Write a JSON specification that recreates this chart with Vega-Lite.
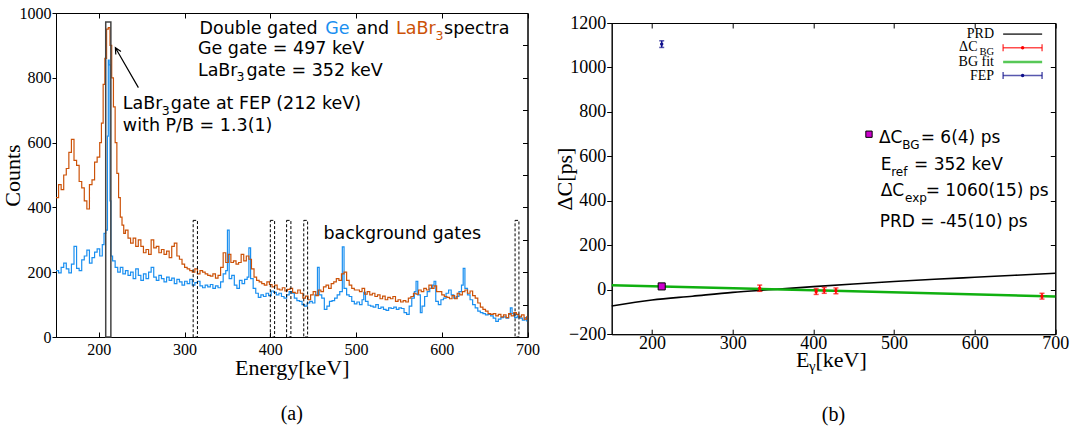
{
"$schema": "https://vega.github.io/schema/vega-lite/v6.json",
"padding": {"left": 0, "top": 4, "right": 0, "bottom": 0},
"spacing": 12.7,
"datasets": {
"ge": [{"E":150,"c":205},{"E":153,"c":198},{"E":156,"c":215},{"E":159,"c":228},{"E":162,"c":210},{"E":165,"c":198},{"E":168,"c":225},{"E":171,"c":280},{"E":174,"c":212},{"E":177,"c":205},{"E":180,"c":238},{"E":183,"c":250},{"E":186,"c":268},{"E":189,"c":228},{"E":192,"c":245},{"E":195,"c":262},{"E":198,"c":272},{"E":201,"c":250},{"E":204,"c":285},{"E":206,"c":320},{"E":208,"c":330},{"E":210,"c":620},{"E":211,"c":855},{"E":212,"c":840},{"E":213,"c":420},{"E":214,"c":250},{"E":216,"c":235},{"E":219,"c":215},{"E":222,"c":200},{"E":225,"c":215},{"E":228,"c":195},{"E":231,"c":205},{"E":234,"c":190},{"E":237,"c":200},{"E":240,"c":180},{"E":243,"c":210},{"E":246,"c":190},{"E":249,"c":175},{"E":252,"c":195},{"E":255,"c":180},{"E":258,"c":200},{"E":261,"c":215},{"E":264,"c":185},{"E":267,"c":175},{"E":270,"c":190},{"E":273,"c":180},{"E":276,"c":170},{"E":279,"c":185},{"E":282,"c":175},{"E":285,"c":182},{"E":288,"c":165},{"E":291,"c":178},{"E":294,"c":170},{"E":297,"c":160},{"E":300,"c":172},{"E":303,"c":165},{"E":306,"c":178},{"E":309,"c":160},{"E":312,"c":168},{"E":315,"c":172},{"E":318,"c":158},{"E":321,"c":152},{"E":324,"c":160},{"E":327,"c":155},{"E":330,"c":162},{"E":333,"c":150},{"E":336,"c":158},{"E":339,"c":152},{"E":342,"c":170},{"E":345,"c":195},{"E":348,"c":205},{"E":350,"c":330},{"E":352,"c":180},{"E":355,"c":190},{"E":358,"c":160},{"E":361,"c":150},{"E":364,"c":175},{"E":367,"c":165},{"E":370,"c":178},{"E":373,"c":185},{"E":375,"c":275},{"E":377,"c":180},{"E":380,"c":150},{"E":383,"c":135},{"E":386,"c":122},{"E":389,"c":130},{"E":392,"c":125},{"E":395,"c":135},{"E":398,"c":128},{"E":401,"c":142},{"E":404,"c":138},{"E":407,"c":130},{"E":410,"c":135},{"E":413,"c":125},{"E":416,"c":120},{"E":419,"c":130},{"E":422,"c":140},{"E":425,"c":135},{"E":428,"c":120},{"E":431,"c":112},{"E":434,"c":110},{"E":437,"c":100},{"E":440,"c":95},{"E":443,"c":105},{"E":446,"c":110},{"E":449,"c":105},{"E":452,"c":130},{"E":455,"c":215},{"E":457,"c":130},{"E":460,"c":120},{"E":463,"c":85},{"E":466,"c":95},{"E":469,"c":110},{"E":472,"c":112},{"E":475,"c":120},{"E":478,"c":130},{"E":481,"c":140},{"E":484,"c":278},{"E":486,"c":150},{"E":489,"c":130},{"E":492,"c":125},{"E":495,"c":110},{"E":498,"c":102},{"E":501,"c":108},{"E":504,"c":100},{"E":507,"c":115},{"E":509,"c":138},{"E":511,"c":110},{"E":514,"c":98},{"E":517,"c":95},{"E":520,"c":92},{"E":523,"c":100},{"E":526,"c":88},{"E":529,"c":92},{"E":532,"c":85},{"E":535,"c":82},{"E":538,"c":90},{"E":541,"c":88},{"E":544,"c":92},{"E":547,"c":85},{"E":550,"c":90},{"E":553,"c":88},{"E":556,"c":75},{"E":559,"c":70},{"E":562,"c":95},{"E":565,"c":120},{"E":568,"c":140},{"E":570,"c":172},{"E":572,"c":130},{"E":575,"c":75},{"E":577,"c":95},{"E":580,"c":125},{"E":583,"c":140},{"E":586,"c":150},{"E":589,"c":160},{"E":591,"c":172},{"E":593,"c":110},{"E":596,"c":100},{"E":599,"c":115},{"E":602,"c":120},{"E":605,"c":135},{"E":608,"c":145},{"E":611,"c":130},{"E":614,"c":120},{"E":617,"c":125},{"E":620,"c":140},{"E":623,"c":160},{"E":625,"c":212},{"E":627,"c":150},{"E":630,"c":130},{"E":633,"c":115},{"E":636,"c":100},{"E":639,"c":90},{"E":642,"c":80},{"E":645,"c":75},{"E":648,"c":72},{"E":651,"c":68},{"E":654,"c":70},{"E":657,"c":65},{"E":660,"c":58},{"E":663,"c":48},{"E":666,"c":55},{"E":669,"c":60},{"E":672,"c":62},{"E":675,"c":58},{"E":678,"c":70},{"E":680,"c":90},{"E":682,"c":72},{"E":685,"c":60},{"E":688,"c":65},{"E":691,"c":58},{"E":694,"c":52},{"E":697,"c":60},{"E":699,"c":50},{"E":700,"c":50}],
"labr": [{"E":150,"c":430},{"E":153,"c":470},{"E":156,"c":455},{"E":159,"c":500},{"E":162,"c":520},{"E":165,"c":570},{"E":168,"c":610},{"E":171,"c":545},{"E":174,"c":530},{"E":177,"c":480},{"E":180,"c":460},{"E":183,"c":420},{"E":186,"c":395},{"E":189,"c":470},{"E":192,"c":485},{"E":195,"c":540},{"E":198,"c":555},{"E":201,"c":600},{"E":203,"c":660},{"E":205,"c":780},{"E":207,"c":860},{"E":209,"c":950},{"E":211,"c":955},{"E":213,"c":900},{"E":215,"c":800},{"E":217,"c":710},{"E":219,"c":600},{"E":221,"c":505},{"E":223,"c":430},{"E":225,"c":370},{"E":227,"c":345},{"E":229,"c":320},{"E":231,"c":330},{"E":234,"c":305},{"E":237,"c":290},{"E":240,"c":305},{"E":243,"c":280},{"E":246,"c":300},{"E":249,"c":280},{"E":252,"c":260},{"E":255,"c":270},{"E":258,"c":255},{"E":261,"c":300},{"E":264,"c":275},{"E":267,"c":280},{"E":270,"c":260},{"E":273,"c":270},{"E":276,"c":255},{"E":279,"c":265},{"E":282,"c":245},{"E":285,"c":280},{"E":288,"c":290},{"E":291,"c":250},{"E":294,"c":240},{"E":297,"c":225},{"E":300,"c":215},{"E":303,"c":210},{"E":306,"c":205},{"E":309,"c":200},{"E":312,"c":210},{"E":315,"c":195},{"E":318,"c":205},{"E":321,"c":200},{"E":324,"c":195},{"E":327,"c":190},{"E":330,"c":188},{"E":333,"c":195},{"E":336,"c":182},{"E":339,"c":190},{"E":342,"c":215},{"E":345,"c":260},{"E":348,"c":230},{"E":351,"c":255},{"E":354,"c":230},{"E":357,"c":235},{"E":360,"c":225},{"E":363,"c":230},{"E":366,"c":255},{"E":369,"c":235},{"E":372,"c":250},{"E":375,"c":240},{"E":378,"c":210},{"E":381,"c":185},{"E":384,"c":175},{"E":387,"c":170},{"E":390,"c":165},{"E":393,"c":160},{"E":396,"c":170},{"E":399,"c":162},{"E":402,"c":155},{"E":405,"c":160},{"E":408,"c":148},{"E":411,"c":145},{"E":414,"c":152},{"E":417,"c":142},{"E":420,"c":147},{"E":423,"c":150},{"E":426,"c":138},{"E":429,"c":135},{"E":432,"c":145},{"E":435,"c":135},{"E":438,"c":120},{"E":441,"c":126},{"E":444,"c":115},{"E":447,"c":130},{"E":450,"c":140},{"E":453,"c":128},{"E":456,"c":145},{"E":459,"c":140},{"E":462,"c":155},{"E":465,"c":160},{"E":468,"c":150},{"E":471,"c":165},{"E":474,"c":170},{"E":477,"c":180},{"E":480,"c":175},{"E":483,"c":195},{"E":486,"c":200},{"E":489,"c":175},{"E":492,"c":160},{"E":495,"c":150},{"E":498,"c":145},{"E":501,"c":145},{"E":504,"c":140},{"E":507,"c":150},{"E":510,"c":132},{"E":513,"c":140},{"E":516,"c":130},{"E":519,"c":135},{"E":522,"c":125},{"E":525,"c":130},{"E":528,"c":118},{"E":531,"c":126},{"E":534,"c":115},{"E":537,"c":122},{"E":540,"c":118},{"E":543,"c":125},{"E":546,"c":110},{"E":549,"c":115},{"E":552,"c":108},{"E":555,"c":112},{"E":558,"c":108},{"E":561,"c":120},{"E":564,"c":125},{"E":567,"c":135},{"E":570,"c":132},{"E":573,"c":145},{"E":576,"c":140},{"E":579,"c":150},{"E":582,"c":145},{"E":585,"c":160},{"E":588,"c":150},{"E":591,"c":158},{"E":594,"c":140},{"E":597,"c":140},{"E":600,"c":130},{"E":603,"c":125},{"E":606,"c":122},{"E":609,"c":118},{"E":612,"c":128},{"E":615,"c":118},{"E":618,"c":135},{"E":621,"c":130},{"E":624,"c":140},{"E":627,"c":145},{"E":630,"c":135},{"E":633,"c":142},{"E":636,"c":128},{"E":639,"c":120},{"E":642,"c":105},{"E":645,"c":92},{"E":648,"c":85},{"E":651,"c":80},{"E":654,"c":72},{"E":657,"c":70},{"E":660,"c":72},{"E":663,"c":65},{"E":666,"c":70},{"E":669,"c":62},{"E":672,"c":68},{"E":675,"c":60},{"E":678,"c":72},{"E":681,"c":65},{"E":684,"c":75},{"E":687,"c":70},{"E":690,"c":62},{"E":693,"c":68},{"E":696,"c":55},{"E":699,"c":62},{"E":700,"c":62}],
"gates": [{"lo":208,"hi":214,"base":0,"top":972,"kind":"FEP"},{"lo":310,"hi":315,"base":0,"top":360,"kind":"BG"},{"lo":400,"hi":405,"base":0,"top":360,"kind":"BG"},{"lo":419,"hi":424,"base":0,"top":360,"kind":"BG"},{"lo":439,"hi":443.5,"base":0,"top":360,"kind":"BG"},{"lo":685.5,"hi":690,"base":0,"top":360,"kind":"BG"}],
"prd": [{"E":150,"dc":-73},{"E":200,"dc":-46},{"E":250,"dc":-29},{"E":300,"dc":-12},{"E":350,"dc":1},{"E":400,"dc":14},{"E":450,"dc":26},{"E":500,"dc":37},{"E":550,"dc":47},{"E":600,"dc":56},{"E":650,"dc":65},{"E":700,"dc":74}],
"bgfit": [{"E":150,"dc":20},{"E":425,"dc":-5},{"E":700,"dc":-30}],
"bg": [{"E":333.5,"dc":7,"lo":-7,"hi":21},{"E":403.5,"dc":-8,"lo":-21,"hi":5},{"E":413.5,"dc":-3,"lo":-16,"hi":10},{"E":428,"dc":-5,"lo":-18,"hi":8},{"E":683.5,"dc":-29,"lo":-42,"hi":-16}],
"fep": [{"E":212,"dc":1105,"lo":1090,"hi":1120}],
"sel": [{"E":212,"dc":15}],
"one": [{}]
},
"hconcat": [
{
"width": 471.5, "height": 324,
"title": {"text": "(a)", "orient": "bottom", "offset": 26, "anchor": "middle"},
"resolve": {"axis": {"x": "independent", "y": "independent"}},
"layer": [
{"data": {"name": "one"}, "layer": [
{"data": {"name": "ge"}, "mark": {"type": "line", "interpolate": "step-after", "color": "#1a8ff0", "strokeWidth": 1.2, "clip": true},
 "encoding": {
  "x": {"field": "E", "type": "quantitative", "scale": {"domain": [150, 700], "nice": false, "zero": false}, "axis": {"title": "Energy[keV]", "format": "d", "labelFont": "Liberation Serif", "values": [200,300,400,500,600,700], "tickSize": -5, "labelPadding": 9, "labelFontSize": 16, "titleFontSize": 22, "titlePadding": 0}},
  "y": {"field": "c", "type": "quantitative", "scale": {"domain": [0, 1000], "nice": false, "zero": false}, "axis": {"title": "Counts", "format": "d", "labelFont": "Liberation Serif", "values": [0,100,200,300,400,500,600,700,800,900,1000], "tickSize": 4, "labelPadding": 1, "labelFontSize": 16, "titleFontSize": 22, "titlePadding": -5}}}},
{"data": {"name": "labr"}, "mark": {"type": "line", "interpolate": "step-after", "color": "#cc5208", "strokeWidth": 1.2, "clip": true},
 "encoding": {"x": {"field": "E", "type": "quantitative"}, "y": {"field": "c", "type": "quantitative"}}},
{"data": {"name": "gates"}, "transform": [{"filter": "datum.kind == 'FEP'"}], "mark": {"type": "rect", "fillOpacity": 0, "stroke": "#444444", "strokeWidth": 1.5},
 "encoding": {"x": {"field": "lo", "type": "quantitative"}, "x2": {"field": "hi"}, "y": {"field": "top", "type": "quantitative"}, "y2": {"field": "base"}}},
{"data": {"name": "gates"}, "transform": [{"filter": "datum.kind == 'BG'"}], "mark": {"type": "rect", "fillOpacity": 0, "stroke": "#000000", "strokeWidth": 1, "strokeDash": [3, 2]},
 "encoding": {"x": {"field": "lo", "type": "quantitative"}, "x2": {"field": "hi"}, "y": {"field": "top", "type": "quantitative"}, "y2": {"field": "base"}}},
{"mark": {"type": "point", "shape": "M0,1L0,-1M-0.13,-0.74L0,-1L0.13,-0.74", "filled": false, "stroke": "black", "strokeWidth": 1.2, "size": 2116, "angle": 330, "opacity": 1},
 "encoding": {"x": {"datum": 232.7, "type": "quantitative"}, "y": {"datum": 831.2, "type": "quantitative"}}},
{"mark": {"type": "text", "text": "Double gated", "font": "DejaVu Sans", "fontSize": 17.5, "align": "left", "baseline": "middle", "color": "black"},
 "encoding": {"x": {"datum": 317.4, "type": "quantitative"}, "y": {"datum": 950, "type": "quantitative"}}},
{"mark": {"type": "text", "text": "Ge", "font": "DejaVu Sans", "fontSize": 17.5, "align": "left", "baseline": "middle", "color": "#1a8ff0", "dx": 125.8},
 "encoding": {"x": {"datum": 317.4, "type": "quantitative"}, "y": {"datum": 950, "type": "quantitative"}}},
{"mark": {"type": "text", "text": "and", "font": "DejaVu Sans", "fontSize": 17.5, "align": "left", "baseline": "middle", "color": "black", "dx": 156.8},
 "encoding": {"x": {"datum": 317.4, "type": "quantitative"}, "y": {"datum": 950, "type": "quantitative"}}},
{"mark": {"type": "text", "text": "LaBr", "font": "DejaVu Sans", "fontSize": 17.5, "align": "left", "baseline": "middle", "color": "#cc5208", "dx": 196.4},
 "encoding": {"x": {"datum": 317.4, "type": "quantitative"}, "y": {"datum": 950, "type": "quantitative"}}},
{"mark": {"type": "text", "text": "3", "font": "DejaVu Sans", "fontSize": 12.5, "align": "left", "baseline": "middle", "color": "#cc5208", "dx": 236, "dy": 6.5},
 "encoding": {"x": {"datum": 317.4, "type": "quantitative"}, "y": {"datum": 950, "type": "quantitative"}}},
{"mark": {"type": "text", "text": "spectra", "font": "DejaVu Sans", "fontSize": 17.5, "align": "left", "baseline": "middle", "color": "black", "dx": 244.6},
 "encoding": {"x": {"datum": 317.4, "type": "quantitative"}, "y": {"datum": 950, "type": "quantitative"}}},
{"mark": {"type": "text", "text": "Ge gate = 497 keV", "font": "DejaVu Sans", "fontSize": 17.5, "align": "left", "baseline": "middle", "color": "black"},
 "encoding": {"x": {"datum": 315.5, "type": "quantitative"}, "y": {"datum": 888, "type": "quantitative"}}},
{"mark": {"type": "text", "text": "LaBr", "font": "DejaVu Sans", "fontSize": 17.5, "align": "left", "baseline": "middle", "color": "black"},
 "encoding": {"x": {"datum": 315.5, "type": "quantitative"}, "y": {"datum": 821, "type": "quantitative"}}},
{"mark": {"type": "text", "text": "3", "font": "DejaVu Sans", "fontSize": 12.5, "align": "left", "baseline": "middle", "color": "black", "dx": 38.5, "dy": 6.5},
 "encoding": {"x": {"datum": 315.5, "type": "quantitative"}, "y": {"datum": 821, "type": "quantitative"}}},
{"mark": {"type": "text", "text": "gate = 352 keV", "font": "DejaVu Sans", "fontSize": 17.5, "align": "left", "baseline": "middle", "color": "black", "dx": 48.5},
 "encoding": {"x": {"datum": 315.5, "type": "quantitative"}, "y": {"datum": 821, "type": "quantitative"}}},
{"mark": {"type": "text", "text": "LaBr", "font": "DejaVu Sans", "fontSize": 17.5, "align": "left", "baseline": "middle", "color": "black"},
 "encoding": {"x": {"datum": 228, "type": "quantitative"}, "y": {"datum": 718, "type": "quantitative"}}},
{"mark": {"type": "text", "text": "3", "font": "DejaVu Sans", "fontSize": 12.5, "align": "left", "baseline": "middle", "color": "black", "dx": 38.9, "dy": 6.5},
 "encoding": {"x": {"datum": 228, "type": "quantitative"}, "y": {"datum": 718, "type": "quantitative"}}},
{"mark": {"type": "text", "text": "gate at FEP (212 keV)", "font": "DejaVu Sans", "fontSize": 17.5, "align": "left", "baseline": "middle", "color": "black", "dx": 48},
 "encoding": {"x": {"datum": 228, "type": "quantitative"}, "y": {"datum": 718, "type": "quantitative"}}},
{"mark": {"type": "text", "text": "with P/B = 1.3(1)", "font": "DejaVu Sans", "fontSize": 17.5, "align": "left", "baseline": "middle", "color": "black"},
 "encoding": {"x": {"datum": 228, "type": "quantitative"}, "y": {"datum": 651, "type": "quantitative"}}},
{"mark": {"type": "text", "text": "background gates", "font": "DejaVu Sans", "fontSize": 17.5, "align": "left", "baseline": "middle", "color": "black"},
 "encoding": {"x": {"datum": 461.9, "type": "quantitative"}, "y": {"datum": 317, "type": "quantitative"}}}
]},
{"data": {"name": "one"}, "mark": {"type": "point", "opacity": 0},
 "encoding": {
  "x": {"datum": 150, "type": "quantitative", "scale": {"domain": [150, 700], "nice": false, "zero": false}, "axis": {"orient": "top", "labels": false, "title": null, "tickSize": -5, "values": [200,300,400,500,600,700]}},
  "y": {"datum": 0, "type": "quantitative", "scale": {"domain": [0, 1000], "nice": false, "zero": false}, "axis": {"orient": "right", "labels": false, "title": null, "tickSize": -5, "values": [0,100,200,300,400,500,600,700,800,900,1000]}}}}
]
},
{
"spacing": -1,
"vconcat": [
{"data": {"name": "one"}, "width": 443.6, "height": 0.5, "view": {"stroke": null}, "mark": {"type": "point", "opacity": 0, "size": 1, "strokeWidth": 0}, "encoding": {}},
{
"width": 443.6, "height": 311.2,
"title": {"text": "(b)", "orient": "bottom", "offset": 31, "anchor": "middle"},
"resolve": {"axis": {"x": "independent", "y": "independent"}},
"layer": [
{"data": {"name": "one"}, "layer": [
{"data": {"name": "prd"}, "mark": {"type": "line", "color": "black", "strokeWidth": 1.6, "interpolate": "monotone"},
 "encoding": {
  "x": {"field": "E", "type": "quantitative", "scale": {"domain": [150, 700], "nice": false, "zero": false}, "axis": {"title": null, "format": "d", "labelFont": "Liberation Serif", "values": [200,300,400,500,600,700], "tickSize": -5, "labelPadding": 5, "labelFontSize": 18}},
  "y": {"field": "dc", "type": "quantitative", "scale": {"domain": [-200, 1200], "nice": false, "zero": false}, "axis": {"title": "ΔC[ps]", "format": "d", "labelFont": "Liberation Serif", "values": [-200,0,200,400,600,800,1000,1200], "tickSize": 5, "labelPadding": 1, "labelFontSize": 18, "titleFontSize": 22, "titlePadding": -8}}}},
{"data": {"name": "bgfit"}, "mark": {"type": "line", "color": "#10b010", "strokeWidth": 2.5},
 "encoding": {"x": {"field": "E", "type": "quantitative"}, "y": {"field": "dc", "type": "quantitative"}}},
{"data": {"name": "bg"}, "mark": {"type": "rule", "color": "#ff0000", "strokeWidth": 1.5},
 "encoding": {"x": {"field": "E", "type": "quantitative"}, "y": {"field": "lo", "type": "quantitative"}, "y2": {"field": "hi"}}},
{"data": {"name": "bg"}, "mark": {"type": "tick", "orient": "horizontal", "color": "#ff0000", "size": 5, "thickness": 1.5},
 "encoding": {"x": {"field": "E", "type": "quantitative"}, "y": {"field": "lo", "type": "quantitative"}}},
{"data": {"name": "bg"}, "mark": {"type": "tick", "orient": "horizontal", "color": "#ff0000", "size": 5, "thickness": 1.5},
 "encoding": {"x": {"field": "E", "type": "quantitative"}, "y": {"field": "hi", "type": "quantitative"}}},
{"data": {"name": "bg"}, "mark": {"type": "point", "filled": true, "color": "#ff0000", "size": 12, "opacity": 1},
 "encoding": {"x": {"field": "E", "type": "quantitative"}, "y": {"field": "dc", "type": "quantitative"}}},
{"data": {"name": "fep"}, "mark": {"type": "rule", "color": "#10108c", "strokeWidth": 1.5},
 "encoding": {"x": {"field": "E", "type": "quantitative"}, "y": {"field": "lo", "type": "quantitative"}, "y2": {"field": "hi"}}},
{"data": {"name": "fep"}, "mark": {"type": "tick", "orient": "horizontal", "color": "#10108c", "size": 5, "thickness": 1.5},
 "encoding": {"x": {"field": "E", "type": "quantitative"}, "y": {"field": "lo", "type": "quantitative"}}},
{"data": {"name": "fep"}, "mark": {"type": "tick", "orient": "horizontal", "color": "#10108c", "size": 5, "thickness": 1.5},
 "encoding": {"x": {"field": "E", "type": "quantitative"}, "y": {"field": "hi", "type": "quantitative"}}},
{"data": {"name": "fep"}, "mark": {"type": "point", "filled": true, "color": "#10108c", "size": 12, "opacity": 1},
 "encoding": {"x": {"field": "E", "type": "quantitative"}, "y": {"field": "dc", "type": "quantitative"}}},
{"data": {"name": "sel"}, "mark": {"type": "point", "shape": "square", "filled": true, "fill": "#cc00cc", "stroke": "black", "strokeWidth": 1, "size": 50, "opacity": 1},
 "encoding": {"x": {"field": "E", "type": "quantitative"}, "y": {"field": "dc", "type": "quantitative"}}},
{"mark": {"type": "point", "shape": "square", "filled": true, "fill": "#cc00cc", "stroke": "black", "strokeWidth": 1, "size": 40, "opacity": 1},
 "encoding": {"x": {"datum": 469, "type": "quantitative"}, "y": {"datum": 699.7, "type": "quantitative"}}},
{"mark": {"type": "text", "text": "ΔC", "font": "DejaVu Sans", "fontSize": 17, "align": "left", "baseline": "middle", "color": "black"},
 "encoding": {"x": {"datum": 481.4, "type": "quantitative"}, "y": {"datum": 680.4, "type": "quantitative"}}},
{"mark": {"type": "text", "text": "BG", "font": "DejaVu Sans", "fontSize": 12, "align": "left", "baseline": "middle", "color": "black", "dx": 23.3, "dy": 7},
 "encoding": {"x": {"datum": 481.4, "type": "quantitative"}, "y": {"datum": 680.4, "type": "quantitative"}}},
{"mark": {"type": "text", "text": "= 6(4) ps", "font": "DejaVu Sans", "fontSize": 17, "align": "left", "baseline": "middle", "color": "black", "dx": 41.7},
 "encoding": {"x": {"datum": 481.4, "type": "quantitative"}, "y": {"datum": 680.4, "type": "quantitative"}}},
{"mark": {"type": "text", "text": "E", "font": "DejaVu Sans", "fontSize": 17, "align": "left", "baseline": "middle", "color": "black"},
 "encoding": {"x": {"datum": 483.5, "type": "quantitative"}, "y": {"datum": 562.1, "type": "quantitative"}}},
{"mark": {"type": "text", "text": "ref", "font": "DejaVu Sans", "fontSize": 12, "align": "left", "baseline": "middle", "color": "black", "dx": 10.5, "dy": 7},
 "encoding": {"x": {"datum": 483.5, "type": "quantitative"}, "y": {"datum": 562.1, "type": "quantitative"}}},
{"mark": {"type": "text", "text": "= 352 keV", "font": "DejaVu Sans", "fontSize": 17, "align": "left", "baseline": "middle", "color": "black", "dx": 33.3},
 "encoding": {"x": {"datum": 483.5, "type": "quantitative"}, "y": {"datum": 562.1, "type": "quantitative"}}},
{"mark": {"type": "text", "text": "ΔC", "font": "DejaVu Sans", "fontSize": 17, "align": "left", "baseline": "middle", "color": "black"},
 "encoding": {"x": {"datum": 483.5, "type": "quantitative"}, "y": {"datum": 442, "type": "quantitative"}}},
{"mark": {"type": "text", "text": "exp", "font": "DejaVu Sans", "fontSize": 12, "align": "left", "baseline": "middle", "color": "black", "dx": 24.3, "dy": 7},
 "encoding": {"x": {"datum": 483.5, "type": "quantitative"}, "y": {"datum": 442, "type": "quantitative"}}},
{"mark": {"type": "text", "text": "= 1060(15) ps", "font": "DejaVu Sans", "fontSize": 17, "align": "left", "baseline": "middle", "color": "black", "dx": 45},
 "encoding": {"x": {"datum": 483.5, "type": "quantitative"}, "y": {"datum": 442, "type": "quantitative"}}},
{"mark": {"type": "text", "text": "PRD = -45(10) ps", "font": "DejaVu Sans", "fontSize": 17, "align": "left", "baseline": "middle", "color": "black"},
 "encoding": {"x": {"datum": 482.3, "type": "quantitative"}, "y": {"datum": 303.8, "type": "quantitative"}}},
{"mark": {"type": "text", "text": "PRD", "font": "Liberation Serif", "fontSize": 14, "align": "right", "baseline": "middle", "color": "black"},
 "encoding": {"x": {"datum": 624, "type": "quantitative"}, "y": {"datum": 1149, "type": "quantitative"}}},
{"mark": {"type": "tick", "orient": "horizontal", "color": "black", "size": 39, "thickness": 1.6},
 "encoding": {"x": {"datum": 659.5, "type": "quantitative"}, "y": {"datum": 1150, "type": "quantitative"}}},
{"mark": {"type": "text", "text": "ΔC", "font": "Liberation Serif", "fontSize": 14, "align": "right", "baseline": "middle", "color": "black"},
 "encoding": {"x": {"datum": 603.5, "type": "quantitative"}, "y": {"datum": 1092.8, "type": "quantitative"}}},
{"mark": {"type": "text", "text": "BG", "font": "Liberation Serif", "fontSize": 10.5, "align": "right", "baseline": "middle", "color": "black"},
 "encoding": {"x": {"datum": 624, "type": "quantitative"}, "y": {"datum": 1068.6, "type": "quantitative"}}},
{"mark": {"type": "tick", "orient": "horizontal", "color": "#ff0000", "size": 39, "thickness": 1.5},
 "encoding": {"x": {"datum": 659.5, "type": "quantitative"}, "y": {"datum": 1088.4, "type": "quantitative"}}},
{"mark": {"type": "tick", "orient": "vertical", "color": "#ff0000", "size": 7, "thickness": 1.5},
 "encoding": {"x": {"datum": 635.3, "type": "quantitative"}, "y": {"datum": 1088.4, "type": "quantitative"}}},
{"mark": {"type": "tick", "orient": "vertical", "color": "#ff0000", "size": 7, "thickness": 1.5},
 "encoding": {"x": {"datum": 683.6, "type": "quantitative"}, "y": {"datum": 1088.4, "type": "quantitative"}}},
{"mark": {"type": "point", "filled": true, "color": "#ff0000", "size": 12, "opacity": 1},
 "encoding": {"x": {"datum": 659.5, "type": "quantitative"}, "y": {"datum": 1088.4, "type": "quantitative"}}},
{"mark": {"type": "text", "text": "BG fit", "font": "Liberation Serif", "fontSize": 14, "align": "right", "baseline": "middle", "color": "black"},
 "encoding": {"x": {"datum": 624, "type": "quantitative"}, "y": {"datum": 1023.6, "type": "quantitative"}}},
{"mark": {"type": "tick", "orient": "horizontal", "color": "#10b010", "size": 39, "thickness": 2.5},
 "encoding": {"x": {"datum": 659.5, "type": "quantitative"}, "y": {"datum": 1025, "type": "quantitative"}}},
{"mark": {"type": "text", "text": "FEP", "font": "Liberation Serif", "fontSize": 14, "align": "right", "baseline": "middle", "color": "black"},
 "encoding": {"x": {"datum": 624, "type": "quantitative"}, "y": {"datum": 960.6, "type": "quantitative"}}},
{"mark": {"type": "tick", "orient": "horizontal", "color": "#10108c", "size": 39, "thickness": 1.5},
 "encoding": {"x": {"datum": 659.5, "type": "quantitative"}, "y": {"datum": 963.8, "type": "quantitative"}}},
{"mark": {"type": "tick", "orient": "vertical", "color": "#10108c", "size": 7, "thickness": 1.5},
 "encoding": {"x": {"datum": 635.3, "type": "quantitative"}, "y": {"datum": 963.8, "type": "quantitative"}}},
{"mark": {"type": "tick", "orient": "vertical", "color": "#10108c", "size": 7, "thickness": 1.5},
 "encoding": {"x": {"datum": 683.6, "type": "quantitative"}, "y": {"datum": 963.8, "type": "quantitative"}}},
{"mark": {"type": "point", "filled": true, "color": "#10108c", "size": 12, "opacity": 1},
 "encoding": {"x": {"datum": 659.5, "type": "quantitative"}, "y": {"datum": 963.8, "type": "quantitative"}}},
{"mark": {"type": "text", "text": "E", "font": "Liberation Serif", "fontSize": 22, "align": "left", "baseline": "alphabetic", "color": "black"},
 "encoding": {"x": {"datum": 378.5, "type": "quantitative"}, "y": {"datum": -349.8, "type": "quantitative"}}},
{"mark": {"type": "text", "text": "γ", "font": "Liberation Serif", "fontSize": 15, "align": "left", "baseline": "alphabetic", "color": "black", "dx": 13, "dy": 4},
 "encoding": {"x": {"datum": 378.5, "type": "quantitative"}, "y": {"datum": -349.8, "type": "quantitative"}}},
{"mark": {"type": "text", "text": "[keV]", "font": "Liberation Serif", "fontSize": 22, "align": "left", "baseline": "alphabetic", "color": "black", "dx": 19.5},
 "encoding": {"x": {"datum": 378.5, "type": "quantitative"}, "y": {"datum": -349.8, "type": "quantitative"}}}
]},
{"data": {"name": "one"}, "mark": {"type": "point", "opacity": 0},
 "encoding": {
  "x": {"datum": 150, "type": "quantitative", "scale": {"domain": [150, 700], "nice": false, "zero": false}, "axis": {"orient": "top", "labels": false, "title": null, "tickSize": -5, "values": [200,300,400,500,600,700]}},
  "y": {"datum": 0, "type": "quantitative", "scale": {"domain": [-200, 1200], "nice": false, "zero": false}, "axis": {"orient": "right", "labels": false, "title": null, "tickSize": -5, "values": [-200,0,200,400,600,800,1000,1200]}}}}
]
}
]
}
],
"config": {
 "view": {"stroke": "black", "strokeWidth": 1},
 "axis": {"grid": false, "labelFont": "Liberation Serif", "titleFont": "Liberation Serif", "titleFontWeight": "normal", "labelColor": "black", "titleColor": "black", "tickColor": "black", "domainColor": "black", "labelFlush": false, "labelOverlap": false},
 "title": {"font": "Liberation Serif", "fontWeight": "normal", "fontSize": 20, "color": "black"}
}
}
